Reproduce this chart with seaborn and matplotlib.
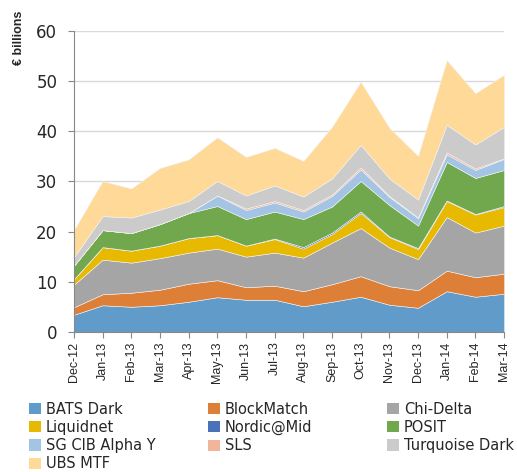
import numpy as np
import pandas as pd
import seaborn as sns
import matplotlib.pyplot as plt
from matplotlib.patches import Patch

# Monthly dark pool volumes (EUR bn)
months = ["Dec-12", "Jan-13", "Feb-13", "Mar-13", "Apr-13", "May-13", "Jun-13", "Jul-13",
          "Aug-13", "Sep-13", "Oct-13", "Nov-13", "Dec-13", "Jan-14", "Feb-14", "Mar-14"]

bats_dark = [3.4, 5.3, 5.0, 5.3, 6.0, 6.9, 6.4, 6.4, 5.1, 6.0, 7.0, 5.4, 4.8, 8.1, 7.0, 7.6]
blockmatch = [1.5, 2.2, 2.8, 3.1, 3.6, 3.4, 2.5, 2.8, 3.0, 3.5, 4.1, 3.7, 3.5, 4.1, 3.9, 4.0]
chi_delta = [4.5, 6.9, 6.0, 6.3, 6.2, 6.3, 6.1, 6.6, 6.7, 8.3, 9.6, 7.7, 6.2, 10.7, 8.9, 9.6]
liquidnet = [1.1, 2.5, 2.4, 2.5, 2.9, 2.7, 2.2, 2.7, 1.8, 1.7, 3.0, 2.1, 2.0, 3.2, 3.6, 3.7]
nordic_mid = [0, 0, 0, 0, 0, 0, 0, 0.1, 0.3, 0.3, 0.3, 0.1, 0.2, 0.1, 0.1, 0.2]
posit = [2.7, 3.4, 3.5, 4.3, 5.0, 5.8, 5.3, 5.4, 5.6, 5.2, 6.1, 6.3, 4.5, 7.7, 7.2, 7.2]
sg_cib = [0, 0, 0, 0, 0, 2.1, 1.8, 1.8, 1.5, 2.1, 2.3, 1.6, 1.5, 1.5, 1.6, 2.2]
sls = [0, 0, 0, 0, 0, 0, 0.3, 0.3, 0.3, 0.3, 0.4, 0.2, 0.1, 0.4, 0.3, 0.1]
turquoise = [1.7, 2.8, 3.1, 2.9, 2.4, 2.9, 2.6, 3.1, 2.7, 3.2, 4.5, 3.5, 3.6, 5.5, 4.8, 6.3]
ubs_mtf = [5.4, 7.0, 5.8, 8.3, 8.3, 8.7, 7.7, 7.5, 7.1, 10.3, 12.6, 10.1, 8.7, 12.9, 10.2, 10.4]

series = ["BATS Dark", "BlockMatch", "Chi-Delta", "Liquidnet", "Nordic@Mid",
          "POSIT", "SG CIB Alpha Y", "SLS", "Turquoise Dark", "UBS MTF"]

df = pd.DataFrame({
    "BATS Dark": bats_dark,
    "BlockMatch": blockmatch,
    "Chi-Delta": chi_delta,
    "Liquidnet": liquidnet,
    "Nordic@Mid": nordic_mid,
    "POSIT": posit,
    "SG CIB Alpha Y": sg_cib,
    "SLS": sls,
    "Turquoise Dark": turquoise,
    "UBS MTF": ubs_mtf,
}, index=months)

colors = {
    "BATS Dark": "#609BC9",
    "BlockMatch": "#DE7F37",
    "Chi-Delta": "#A5A5A5",
    "Liquidnet": "#E8B901",
    "Nordic@Mid": "#4A72BB",
    "POSIT": "#72A84D",
    "SG CIB Alpha Y": "#A3C4E5",
    "SLS": "#F2B49B",
    "Turquoise Dark": "#CBCBCB",
    "UBS MTF": "#FFD998",
}

sns.set_style("white")
plt.rcParams["font.family"] = ["DejaVu Sans"]

fig = plt.figure(figsize=(5.17, 4.72), dpi=100)
ax = fig.add_axes([0.143, 0.297, 0.832, 0.637])

x = np.arange(len(months))
ax.stackplot(x, [df[s].values for s in series],
             colors=[colors[s] for s in series],
             edgecolor="#f2f2f2", linewidth=0.4, zorder=2)

ax.set_xlim(0, len(months) - 1)
ax.set_ylim(0, 60)
ax.set_yticks(range(0, 61, 10))
ax.yaxis.grid(True, color="#d9d9d9", linewidth=1, zorder=0)
ax.set_axisbelow(True)

ax.set_xticks(x)
ax.set_xticklabels(months, rotation=90, fontsize=9, family="Liberation Sans")
ax.tick_params(axis="y", labelsize=12, length=4, width=0.8, color="#888888",
               direction="out", left=True, pad=8)
ax.tick_params(axis="x", length=4, width=0.8, color="#888888", direction="out", bottom=True, pad=3)

for side in ["top", "right"]:
    ax.spines[side].set_visible(False)
for side in ["left", "bottom"]:
    ax.spines[side].set_color("#888888")
    ax.spines[side].set_linewidth(0.8)

fig.text(0.037, 0.92, "€ billions", rotation=90, fontsize=9, fontweight="bold",
         family="Liberation Sans", ha="center", va="center")

# legend: three equal-width columns, filled row-wise like the original
columns = [["BATS Dark", "Liquidnet", "SG CIB Alpha Y", "UBS MTF"],
           ["BlockMatch", "Nordic@Mid", "SLS"],
           ["Chi-Delta", "POSIT", "Turquoise Dark"]]
col_x = [29 / 517, 208 / 517, 387 / 517]
for names, cx in zip(columns, col_x):
    handles = [Patch(facecolor=colors[s], edgecolor="none", label=s) for s in names]
    fig.legend(handles=handles, loc="upper left", bbox_to_anchor=(cx, 0.149),
               ncol=1, frameon=False, fontsize=10.5, handlelength=0.8, handleheight=0.8,
               handletextpad=0.35, labelspacing=0.22, borderpad=0, borderaxespad=0)

fig.savefig("out.png", dpi=100)
